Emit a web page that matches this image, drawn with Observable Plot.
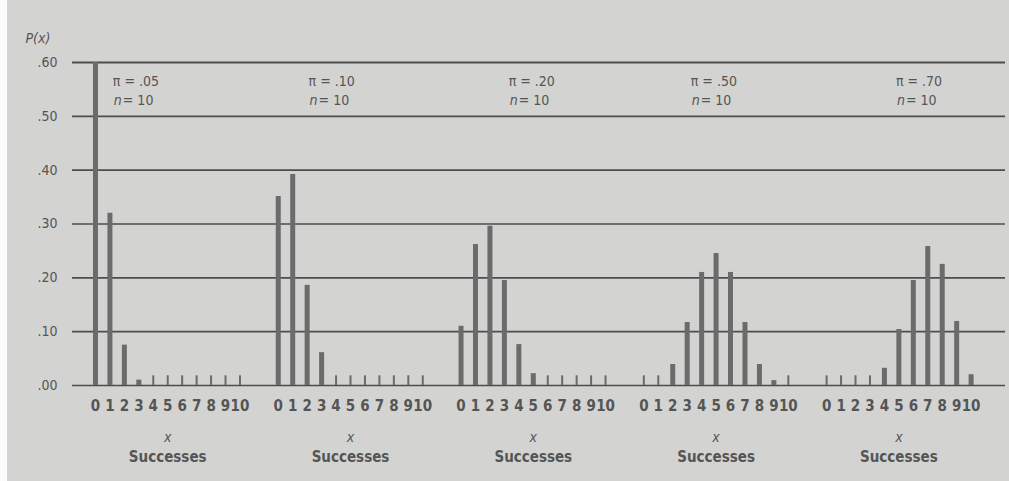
<!DOCTYPE html>
<html>
<head>
<meta charset="utf-8">
<script src="https://cdn.jsdelivr.net/npm/d3@7"></script>
<script src="https://cdn.jsdelivr.net/npm/@observablehq/plot@0.6"></script>
<style>
  html, body { margin: 0; padding: 0; background: #d3d3d1; }
  body { width: 1009px; height: 481px; overflow: hidden; position: relative; }
  #strip { position: absolute; left: 0; top: 0; width: 7px; height: 481px; background: #fbfbfb; }
  #chart { position: absolute; left: 0; top: 0; }
  svg { font-family: "Liberation Sans Narrow", "DejaVu Sans Condensed", "Liberation Sans", sans-serif; }
</style>
</head>
<body>
<div id="strip"></div>
<div id="chart"></div>
<script>
// ---- data ----
const piLabels = [".05", ".10", ".20", ".50", ".70"];
const nLabel = "10";
const successes = [0, 1, 2, 3, 4, 5, 6, 7, 8, 9, 10];
const p05 = [0.60, 0.32, 0.075, 0.010, 0, 0, 0, 0, 0, 0, 0];
const p10 = [0.351, 0.392, 0.186, 0.061, 0, 0, 0, 0, 0, 0, 0];
const p20 = [0.110, 0.262, 0.296, 0.195, 0.076, 0.022, 0, 0, 0, 0, 0];
const p50 = [0, 0, 0.039, 0.117, 0.210, 0.245, 0.210, 0.117, 0.039, 0.009, 0];
const p70 = [0, 0, 0, 0, 0.032, 0.104, 0.195, 0.258, 0.225, 0.119, 0.020];
const yTicks = [0, 0.10, 0.20, 0.30, 0.40, 0.50, 0.60];
const xAxisLabel = "x";
const xAxisTitle = "Successes";
const yAxisTitle = "P(x)";

// ---- layout constants ----
const PANEL_STEP = 12.65;      // panel offset in x units
const TICK_H = 0.018;          // height of the marker drawn for zero probability
const LABEL_K = [1.2, 2.1, 3.3, 3.25, 4.8];
const series = [p05, p10, p20, p50, p70];

const rows = [];
series.forEach((vals, p) => successes.forEach((k, i) => rows.push({panel: p, k, value: vals[i]})));
const xpos = d => d.panel * PANEL_STEP + d.k;
const bars = rows.filter(d => d.value > 0);
const zeros = rows.filter(d => d.value === 0);
const panelsData = piLabels.map((pi, p) => ({panel: p, pi, k: LABEL_K[p]}));

const ink = "#555555";
const barColor = "#6b6b6b";

const chart = Plot.plot({
  width: 1009,
  height: 481,
  marginLeft: 72,
  marginRight: 4,
  marginTop: 62,
  marginBottom: 96,
  style: {background: "transparent", color: ink},
  x: {domain: [-1.59, 62.98], axis: null},
  y: {domain: [0, 0.6], axis: null},
  marks: [
    Plot.ruleY(yTicks, {stroke: "#4d4d4d", strokeWidth: d => d === 0.6 ? 2.2 : 1.6}),
    Plot.text(yTicks, {
      y: d => d, frameAnchor: "left", dx: -15, textAnchor: "end",
      text: d => d3.format(".2f")(d).replace(/^0/, ""),
      fontSize: 14, fill: ink
    }),
    Plot.ruleX(bars, {x: xpos, y1: 0, y2: "value", stroke: barColor, strokeWidth: 5}),
    Plot.ruleX(zeros, {x: xpos, y1: 0, y2: TICK_H, stroke: barColor, strokeWidth: 2}),
    Plot.text(rows, {x: xpos, y: 0, dy: 21, text: d => String(d.k), fontSize: 15, fill: ink, fontWeight: "bold"}),
    Plot.text(panelsData, {x: d => d.panel * PANEL_STEP + 5, y: 0, dy: 52, text: () => xAxisLabel, fontSize: 14, fontStyle: "italic", fill: ink}),
    Plot.text(panelsData, {x: d => d.panel * PANEL_STEP + 5, y: 0, dy: 72, text: () => xAxisTitle, fontSize: 15, fill: ink, fontWeight: "bold"}),
    Plot.text(panelsData, {x: d => d.panel * PANEL_STEP + d.k, y: 0.6, dy: 19, textAnchor: "start", text: d => "\u03c0 = " + d.pi, fontSize: 14, fill: ink}),
    Plot.text(panelsData, {x: d => d.panel * PANEL_STEP + d.k, y: 0.6, dy: 38, dx: 1, textAnchor: "start", text: () => "n", fontSize: 14, fontStyle: "italic", fill: ink}),
    Plot.text(panelsData, {x: d => d.panel * PANEL_STEP + d.k, y: 0.6, dy: 38, dx: 10, textAnchor: "start", text: () => "= " + nLabel, fontSize: 14, fill: ink}),
    Plot.text([yAxisTitle], {frameAnchor: "top-left", dx: -47, dy: -29, textAnchor: "start", text: d => d, fontSize: 14, fontStyle: "italic", fill: ink})
  ]
});
document.getElementById("chart").appendChild(chart);
</script>
</body>
</html>
